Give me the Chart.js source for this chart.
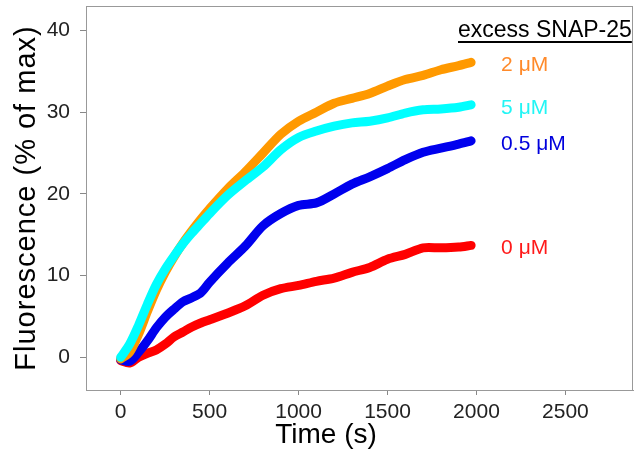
<!DOCTYPE html>
<html>
<head>
<meta charset="utf-8">
<script src="https://cdn.jsdelivr.net/npm/chart.js@4"></script>
<style>
  html, body { margin: 0; padding: 0; background: #fff; }
  #wrap { width: 634px; height: 456px; }
</style>
</head>
<body>
<div id="wrap"><canvas id="myChart" width="634" height="456"></canvas></div>
<script>
// time points (s)
const times = [0, 50, 100, 150, 200, 250, 300, 350, 400, 450, 500, 600, 700, 800, 900,
  1000, 1100, 1200, 1300, 1400, 1500, 1600, 1700, 1800, 1900, 1970]

// fluorescence (% of max) per excess SNAP-25 concentration
const red0uM = [-0.4, -0.7, 0.0, 0.5, 0.9, 1.6, 2.5, 3.1, 3.7, 4.2, 4.6, 5.4, 6.3, 7.6, 8.4,
  8.8, 9.3, 9.7, 10.4, 11.0, 12.0, 12.6, 13.4, 13.4, 13.5, 13.7]
const blue05uM = [-0.3, -0.5, 0.6, 2.0, 3.6, 4.9, 5.9, 6.8, 7.3, 7.9, 9.2, 11.5, 13.6, 16.1, 17.6,
  18.6, 18.9, 20.0, 21.2, 22.1, 23.1, 24.2, 25.1, 25.6, 26.1, 26.5]
const orange2uM = [-0.2, 0.6, 2.8, 5.6, 8.2, 10.4, 12.3, 14.0, 15.5, 16.9, 18.2, 20.6, 22.7, 25.0, 27.3,
  28.9, 30.0, 31.1, 31.7, 32.3, 33.2, 34.0, 34.5, 35.2, 35.7, 36.1]
const cyan5uM = [0.0, 1.6, 3.9, 6.5, 8.9, 10.8, 12.4, 13.9, 15.2, 16.4, 17.6, 19.8, 21.6, 23.3, 25.4,
  26.9, 27.7, 28.3, 28.7, 28.9, 29.3, 29.9, 30.3, 30.4, 30.6, 30.9]

const seriesLabels = ['0 \u03bcM', '0.5 \u03bcM', '2 \u03bcM', '5 \u03bcM']
const xTicks = [0, 500, 1000, 1500, 2000, 2500]
const yTicks = [0, 10, 20, 30, 40]

const toPoints = values => times.map((t, i) => ({ x: t, y: values[i] }))

const lineColors = ['#FF0000', '#0000EE', '#FF9900', '#00FFFF']
const textColors = ['#FF1A1A', '#0000DD', '#FF8A2A', '#22F5F5']

const makeSet = (values, i, order) => ({
  label: seriesLabels[i],
  data: toPoints(values),
  borderColor: lineColors[i],
  backgroundColor: lineColors[i],
  borderWidth: 9,
  borderCapStyle: 'round',
  borderJoinStyle: 'round',
  pointRadius: 0,
  tension: 0.3,
  order: order
})

const noPad = scale => {
  scale.paddingTop = 0
  scale.paddingBottom = 0
  scale.paddingLeft = 0
  scale.paddingRight = 0
}

const decorations = {
  id: 'decorations',
  afterDraw(chart) {
    const { ctx, chartArea: a, scales } = chart
    ctx.save()
    // frame
    ctx.strokeStyle = '#999'
    ctx.lineWidth = 1
    ctx.strokeRect(a.left + 0.5, a.top + 0.5, a.right - a.left - 1, a.bottom - a.top)

    // axis titles
    ctx.fillStyle = '#000'
    ctx.font = '28px "Liberation Sans", Arial, sans-serif'
    ctx.textAlign = 'center'
    ctx.textBaseline = 'alphabetic'
    ctx.fillText('Time (s)', 326, 443)
    ctx.save()
    ctx.translate(35, 198)
    ctx.rotate(-Math.PI / 2)
    ctx.font = '29px "Liberation Sans", Arial, sans-serif'
    ctx.letterSpacing = '1px'
    ctx.fillText('Fluorescence (% of max)', 0, 0)
    ctx.restore()

    // legend header
    ctx.textAlign = 'left'
    ctx.font = '23px "Liberation Sans", Arial, sans-serif'
    const head = 'excess SNAP-25'
    ctx.fillText(head, 458, 37)
    const w = ctx.measureText(head).width
    ctx.fillRect(458, 41, w, 2)

    // series labels at the end of each curve
    ctx.font = '21px "Liberation Sans", Arial, sans-serif'
    chart.data.datasets.forEach((ds, i) => {
      const last = ds.data[ds.data.length - 1]
      const px = scales.x.getPixelForValue(last.x)
      const py = scales.y.getPixelForValue(last.y)
      ctx.fillStyle = textColors[i]
      ctx.fillText(ds.label, px + 30, py + 9)
    })
    ctx.restore()
  }
}

const ctx = document.getElementById('myChart')

new Chart(ctx, {
  type: 'line',
  data: {
    datasets: [
      makeSet(red0uM, 0, 3),
      makeSet(blue05uM, 1, 2),
      makeSet(orange2uM, 2, 1),
      makeSet(cyan5uM, 3, 0)
    ]
  },
  options: {
    responsive: false,
    animation: false,
    layout: { padding: { top: 6, right: 1, left: 0, bottom: 0 } },
    plugins: { legend: { display: false }, tooltip: { enabled: false } },
    scales: {
      x: {
        type: 'linear',
        min: -195,
        max: 2880,
        afterBuildTicks: scale => { scale.ticks = xTicks.map(v => ({ value: v })) },
        afterFit: scale => { scale.height = 66; noPad(scale) },
        grid: { drawOnChartArea: false, drawTicks: true, tickLength: 5, color: '#888' },
        border: { display: true, color: '#999' },
        ticks: {
          autoSkip: false, maxRotation: 0, padding: 5, color: '#222',
          font: { size: 21, family: '"Liberation Sans", Arial, sans-serif' },
          callback: v => String(v)
        }
      },
      y: {
        min: -4,
        max: 43,
        afterBuildTicks: scale => { scale.ticks = yTicks.map(v => ({ value: v })) },
        afterFit: scale => { scale.width = 86; noPad(scale) },
        grid: { drawOnChartArea: false, drawTicks: true, tickLength: 6, color: '#888' },
        border: { display: true, color: '#999' },
        ticks: {
          autoSkip: false, padding: 10, color: '#222',
          font: { size: 21, family: '"Liberation Sans", Arial, sans-serif' },
          callback: v => String(v)
        }
      }
    }
  },
  plugins: [decorations]
})
</script>
</body>
</html>
